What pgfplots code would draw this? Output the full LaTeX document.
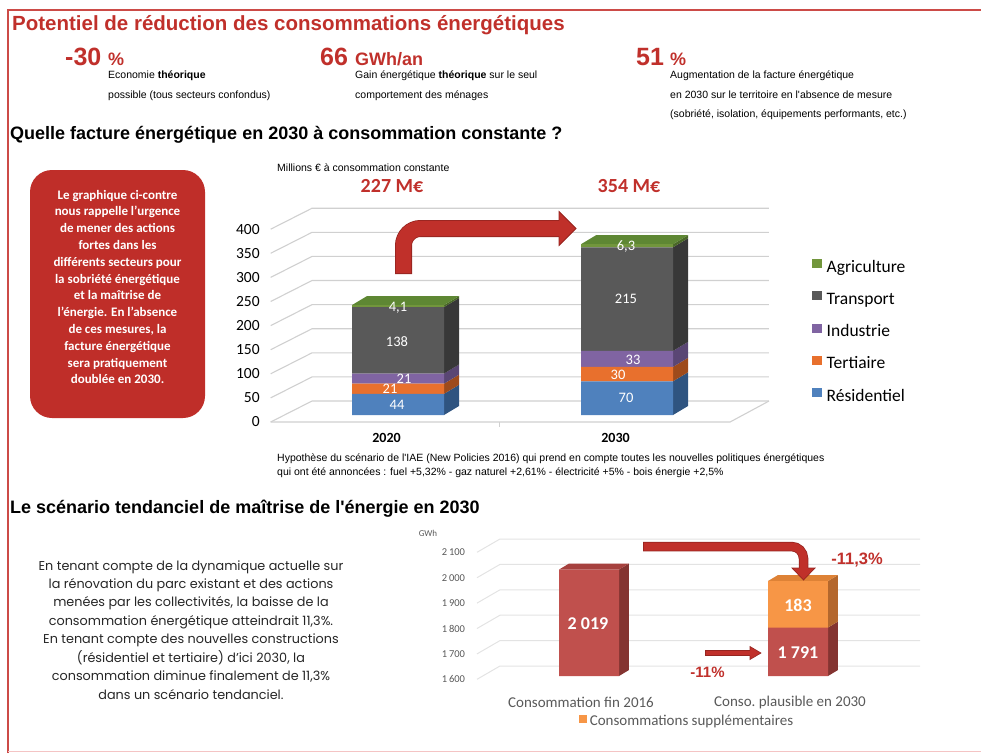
\documentclass[border=0pt]{standalone}
\usepackage{pgfplots}
\pgfplotsset{compat=1.18}
\usepackage{fontspec}
\setmainfont{Liberation Sans}
\newfontfamily\carl{Carlito}
\newfontfamily\gothic{Poppins}
\newcommand\fs[2]{\fontsize{#1}{#2}\selectfont}
\definecolor{tred}{HTML}{C0302B}
\definecolor{boxred}{HTML}{BF2E29}
\definecolor{arrowred}{HTML}{C0302A}
\definecolor{arrowdark}{HTML}{962520}
\definecolor{framered}{HTML}{CC4B47}
\definecolor{framepink}{HTML}{F4C4C4}
\definecolor{resF}{HTML}{4F81BD}\definecolor{resS}{HTML}{2F5480}
\definecolor{terF}{HTML}{E8702D}\definecolor{terS}{HTML}{9E4B1C}
\definecolor{indF}{HTML}{8064A2}\definecolor{indS}{HTML}{5A4674}
\definecolor{traF}{HTML}{595959}\definecolor{traS}{HTML}{383838}
\definecolor{agrF}{HTML}{72963C}\definecolor{agrT}{HTML}{5E8733}\definecolor{agrS}{HTML}{4A6828}
\definecolor{redF}{HTML}{C0504D}\definecolor{redS}{HTML}{843431}\definecolor{redT}{HTML}{A6413E}
\definecolor{oraF}{HTML}{F79646}\definecolor{oraS}{HTML}{B4672D}\definecolor{oraT}{HTML}{DE8236}
\definecolor{gridA}{HTML}{D0D0D0}
\definecolor{gridB}{HTML}{E3E3E3}
\definecolor{gray59}{HTML}{595959}
\definecolor{textdark}{HTML}{262626}
\pgfplotsset{
  sqleg/.style={legend image code/.code={\fill[##1] (0pt,-0.3pt) rectangle (9.5pt,8.7pt);}},
  sqlegb/.style={legend image code/.code={\fill[##1] (0pt,-0.8pt) rectangle (8pt,7.2pt);}},
  gA/.style={draw=gridA, line width=1.1pt},
  gB/.style={draw=gridB, line width=1pt},
  geomA/.style={at={(269.76pt,-421.75pt)}, anchor=south west, scale only axis,
    width=499.22pt, height=209.19pt, xmin=-0.56, xmax=1.62, ymin=-14, ymax=420},
  geomB/.style={at={(474.05pt,-676pt)}, anchor=south west, scale only axis,
    width=449.35pt, height=137.16pt, xmin=-0.55, xmax=1.6, ymin=1600, ymax=2140},
}
\begin{document}
\begin{tikzpicture}
% ================= Chart 1 : background, grid, 3D faces =================
\begin{axis}[geomA, clip=false, axis line style={draw=none}, major tick length=0pt,
  xtick={0,1}, xticklabels={2020,2030}, ytick={0,50,...,400},
  /pgf/number format/assume math mode=true,
  yticklabel style={anchor=east, xshift=-6.6pt, yshift=-7pt, font=\carl\fs{15.5}{18}, text=black},
  xticklabel style={anchor=center, xshift=-11.5pt, yshift=-16.25pt, font=\carl\bfseries\fs{14}{16}, text=black}]
\addplot[gA] coordinates {(-0.556,-14.5) (-0.3755,29) (1.62,29)};
\addplot[gA] coordinates {(-0.556,35.5) (-0.3755,79) (1.62,79)};
\addplot[gA] coordinates {(-0.556,85.5) (-0.3755,129) (1.62,129)};
\addplot[gA] coordinates {(-0.556,135.5) (-0.3755,179) (1.62,179)};
\addplot[gA] coordinates {(-0.556,185.5) (-0.3755,229) (1.62,229)};
\addplot[gA] coordinates {(-0.556,235.5) (-0.3755,279) (1.62,279)};
\addplot[gA] coordinates {(-0.556,285.5) (-0.3755,329) (1.62,329)};
\addplot[gA] coordinates {(-0.556,335.5) (-0.3755,379) (1.62,379)};
\addplot[gA] coordinates {(-0.556,385.5) (-0.3755,429) (1.62,429)};
\addplot[gA] coordinates {(-0.556,-14.5) (1.45,-14.5) (1.62,29)};
\addplot[gA] coordinates {(0.445,-14.5) (0.445,-25)};
% 2020 side faces (cumulative 0,44,65,86,224,228.1)
\addplot[fill=resS, draw=none] coordinates {(0.2009,0) (0.2664,18.7) (0.2664,62.7) (0.2009,44)};
\addplot[fill=terS, draw=none] coordinates {(0.2009,44) (0.2664,62.7) (0.2664,83.7) (0.2009,65)};
\addplot[fill=indS, draw=none] coordinates {(0.2009,65) (0.2664,83.7) (0.2664,104.7) (0.2009,86)};
\addplot[fill=traS, draw=none] coordinates {(0.2009,86) (0.2664,104.7) (0.2664,242.7) (0.2009,224)};
\addplot[fill=agrS, draw=none] coordinates {(0.2009,224) (0.2664,242.7) (0.2664,246.8) (0.2009,228.1)};
\addplot[fill=agrT, draw=none] coordinates {(-0.2009,228.1) (-0.1354,246.8) (0.2664,246.8) (0.2009,228.1)};
% 2030 side faces (cumulative 0,70,100,133,348,354.3)
\addplot[fill=resS, draw=none] coordinates {(1.2009,0) (1.2664,18.7) (1.2664,88.7) (1.2009,70)};
\addplot[fill=terS, draw=none] coordinates {(1.2009,70) (1.2664,88.7) (1.2664,118.7) (1.2009,100)};
\addplot[fill=indS, draw=none] coordinates {(1.2009,100) (1.2664,118.7) (1.2664,151.7) (1.2009,133)};
\addplot[fill=traS, draw=none] coordinates {(1.2009,133) (1.2664,151.7) (1.2664,366.7) (1.2009,348)};
\addplot[fill=agrS, draw=none] coordinates {(1.2009,348) (1.2664,366.7) (1.2664,373) (1.2009,354.3)};
\addplot[fill=agrT, draw=none] coordinates {(0.7991,354.3) (0.8646,373) (1.2664,373) (1.2009,354.3)};
\end{axis}
% ================= Chart 1 : stacked bars =================
\begin{axis}[geomA, hide axis, ybar stacked, bar width=92pt, reverse legend,
  legend cell align=left,
  legend style={at={(1.0862,0.778)}, anchor=north west, draw=none, fill=none, inner sep=0pt,
    row sep=15.8pt, column sep=5pt, font=\carl\fs{17.5}{20},
    nodes={inner sep=0pt, text height=12pt, text depth=3.5pt}}]
\addplot[fill=resF, draw=none, sqleg] coordinates {(0,44) (1,70)};
\addlegendentry{Résidentiel}
\addplot[fill=terF, draw=none, sqleg] coordinates {(0,21) (1,30)};
\addlegendentry{Tertiaire}
\addplot[fill=indF, draw=none, sqleg] coordinates {(0,21) (1,33)};
\addlegendentry{Industrie}
\addplot[fill=traF, draw=none, sqleg] coordinates {(0,138) (1,215)};
\addlegendentry{Transport}
\addplot[fill=agrF, draw=none, sqleg] coordinates {(0,4.1) (1,6.3)};
\addlegendentry{Agriculture}
\end{axis}
% ================= Chart 2 : background, grid, 3D faces =================
\begin{axis}[geomB, clip=false, axis line style={draw=none}, major tick length=0pt,
  xtick={0,1}, xticklabels={Consommation fin 2016,Conso.\ plausible en 2030},
  ytick={1600,1700,...,2100}, scaled y ticks=false,
  /pgf/number format/assume math mode=true, /pgf/number format/1000 sep={\,},
  yticklabel style={anchor=east, xshift=-5.55pt, yshift=-3.3pt, font=\carl\fs{10.5}{12}, text=gray59},
  xticklabel style={anchor=center, xshift=-8pt, yshift=-26pt, font=\carl\fs{15}{18}, text=gray59}]
\addplot[gB] coordinates {(-0.536,1587) (-0.426,1639.4) (1.584,1639.4)};
\addplot[gB] coordinates {(-0.536,1687) (-0.426,1739.4) (1.584,1739.4)};
\addplot[gB] coordinates {(-0.536,1787) (-0.426,1839.4) (1.584,1839.4)};
\addplot[gB] coordinates {(-0.536,1887) (-0.426,1939.4) (1.584,1939.4)};
\addplot[gB] coordinates {(-0.536,1987) (-0.426,2039.4) (1.584,2039.4)};
\addplot[gB] coordinates {(-0.536,2087) (-0.426,2139.4) (1.584,2139.4)};
\addplot[fill=redS, draw=none] coordinates {(0.1435,1600) (0.1913,1623.6) (0.1913,2042.6) (0.1435,2019)};
\addplot[fill=redT, draw=none] coordinates {(-0.1435,2019) (-0.0957,2042.6) (0.1913,2042.6) (0.1435,2019)};
\addplot[fill=redS, draw=none] coordinates {(1.1435,1600) (1.1913,1623.6) (1.1913,1814.6) (1.1435,1791)};
\addplot[fill=oraS, draw=none] coordinates {(1.1435,1791) (1.1913,1814.6) (1.1913,1997.6) (1.1435,1974)};
\addplot[fill=oraT, draw=none] coordinates {(0.8565,1974) (0.9043,1997.6) (1.1913,1997.6) (1.1435,1974)};
\end{axis}
% ================= Chart 2 : stacked bars =================
\begin{axis}[geomB, hide axis, ybar stacked, bar width=60pt,
  legend style={at={(0.4717,-0.3354)}, anchor=center, draw=none, fill=none, inner sep=0pt,
    column sep=3pt, font=\carl\fs{15}{18}, text=gray59,
    nodes={inner sep=0pt, text height=10.5pt, text depth=3pt}},
  legend columns=1]
\addlegendimage{fill=oraF, draw=none, sqlegb}
\addlegendentry{Consommations supplémentaires}
\addplot[fill=redF, draw=none] coordinates {(0,2019) (1,1791)};
\addplot[fill=oraF, draw=none] coordinates {(0,0) (1,183)};
\end{axis}
% ================= Texts, box, arrows =================
\begin{scope}[x=1pt,y=-1pt]
\draw[framered, line width=2pt] (8,753) -- (8,10) -- (981,10);
\draw[framepink, line width=1.5pt] (8,751.5) -- (981,751.5);
% header
\node[anchor=base west, inner sep=0pt, font=\bfseries\fs{20.5}{24}, text=tred] at (12,30) {Potentiel de réduction des consommations énergétiques};
\node[anchor=base west, inner sep=0pt, font=\bfseries\fs{25}{30}, text=tred] at (65,65) {-30};
\node[anchor=base west, inner sep=0pt, font=\bfseries\fs{18}{22}, text=tred] at (108,65) {\%};
\node[anchor=base west, inner sep=0pt, font=\bfseries\fs{25}{30}, text=tred] at (320,65) {66};
\node[anchor=base west, inner sep=0pt, font=\bfseries\fs{18}{22}, text=tred] at (355,65) {GWh/an};
\node[anchor=base west, inner sep=0pt, font=\bfseries\fs{25}{30}, text=tred] at (636,65) {51};
\node[anchor=base west, inner sep=0pt, font=\bfseries\fs{18}{22}, text=tred] at (670,65) {\%};
\begin{scope}[every node/.style={anchor=base west, inner sep=0pt, font=\fs{10.5}{12}}]
\node at (108,78.5) {Economie \textbf{théorique}};
\node at (108,98) {possible (tous secteurs confondus)};
\node at (355,78.5) {Gain énergétique \textbf{théorique} sur le seul};
\node at (355,98) {comportement des ménages};
\node at (670,78.5) {Augmentation de la facture énergétique};
\node at (670,98) {en 2030 sur le territoire en l\textquotesingle absence de mesure};
\node at (670,117) {(sobriété, isolation, équipements performants, etc.)};
\node at (277,171) {Millions € à consommation constante};
\node at (277,461) {Hypothèse du scénario de l\textquotesingle IAE (New Policies 2016) qui prend en compte toutes les nouvelles politiques énergétiques};
\node at (277,475) {qui ont été annoncées : fuel +5,32\% - gaz naturel +2,61\% - électricité +5\% - bois énergie +2,5\%};
\end{scope}
\node[anchor=base west, inner sep=0pt, font=\bfseries\fs{18}{22}] at (10,139.5) {Quelle facture énergétique en 2030 à consommation constante ?};
\node[anchor=base west, inner sep=0pt, font=\bfseries\fs{18}{22}] at (10,513.5) {Le scénario tendanciel de maîtrise de l\textquotesingle énergie en 2030};
% red box
\fill[boxred, rounded corners=22pt] (30,170) rectangle (205,418);
\node[anchor=base, inner sep=0pt, align=center, text=white, font=\carl\bfseries\fs{13}{16.8}] at (117.5,383.8)
 {Le graphique ci-contre\\nous rappelle l’urgence\\de mener des actions\\fortes dans les\\différents secteurs pour\\la sobriété énergétique\\et la maîtrise de\\l’énergie. En l’absence\\de ces mesures, la\\facture énergétique\\sera pratiquement\\doublée en 2030.};
% chart 1 totals
\node[font=\carl\bfseries\fs{20}{24}, text=tred] at (392,186) {227 M€};
\node[font=\carl\bfseries\fs{20}{24}, text=tred] at (629,186) {354 M€};
% chart 1 bar labels
\begin{scope}[every node/.style={font=\carl\fs{14.5}{17}, text=white, inner sep=0pt}]
\node at (397,405) {44};
\node at (390,389) {21};
\node at (404,379) {21};
\node at (397,342) {138};
\node at (398,308) {4,1};
\node at (626,398) {70};
\node at (618,375) {30};
\node at (633,360) {33};
\node at (626,299) {215};
\node at (626,247) {6,3};
\end{scope}
% chart 1 arrow
\draw[line width=17pt, arrowdark, rounded corners=17pt] (403.5,274)--(403.5,228.5)--(561,228.5);
\draw[line width=15.4pt, arrowred, rounded corners=17pt] (403.5,273.2)--(403.5,228.5)--(562,228.5);
\fill[arrowred] (559,211.5)--(576,228.5)--(559,245.5)--cycle;
\draw[arrowdark, line width=0.8pt] (559,220.5)--(559,211.5)--(576,228.5)--(559,245.5)--(559,236.5);
% chart 2 texts
\node[font=\carl\fs{9}{10}, text=gray59] at (428,533) {GWh};
\node[anchor=base, inner sep=0pt, align=center, text=textdark, font=\gothic\fs{12.8}{18.45}] at (191,699.2)
 {En tenant compte de la dynamique actuelle sur\\la rénovation du parc existant et des actions\\menées par les collectivités, la baisse de la\\consommation énergétique atteindrait 11,3\%.\\En tenant compte des nouvelles constructions\\(résidentiel et tertiaire) d’ici 2030, la\\consommation diminue finalement de 11,3\%\\dans un scénario tendanciel.};
\node[font=\carl\bfseries\fs{18}{22}, text=white] at (588,624) {2 019};
\node[font=\carl\bfseries\fs{18}{22}, text=white] at (798,605) {183};
\node[font=\carl\bfseries\fs{18}{22}, text=white] at (798,653) {1 791};
% chart 2 arrows
\draw[line width=9.5pt, arrowdark, rounded corners=12pt] (643,546.5)--(803.5,546.5)--(803.5,569);
\draw[line width=8pt, arrowred, rounded corners=12pt] (643.8,546.5)--(803.5,546.5)--(803.5,570);
\fill[arrowred] (792,568)--(815,568)--(803.5,580)--cycle;
\draw[arrowdark, line width=0.7pt] (799,568)--(792,568)--(803.5,580)--(815,568)--(808,568);
\draw[line width=6pt, arrowdark] (705,653)--(751,653);
\draw[line width=4.8pt, arrowred] (705.6,653)--(751.5,653);
\fill[arrowred] (750,646.5)--(761,653)--(750,659.5)--cycle;
\draw[arrowdark, line width=0.6pt] (750,650)--(750,646.5)--(761,653)--(750,659.5)--(750,656);
\node[font=\bfseries\fs{16.5}{20}, text=tred] at (857,560) {-11,3\%};
\node[font=\bfseries\fs{15}{18}, text=tred] at (707.5,672) {-11\%};
\end{scope}
\pgfresetboundingbox
\path[use as bounding box] (0pt,0pt) rectangle (981pt,-753pt);
\end{tikzpicture}
\end{document}
